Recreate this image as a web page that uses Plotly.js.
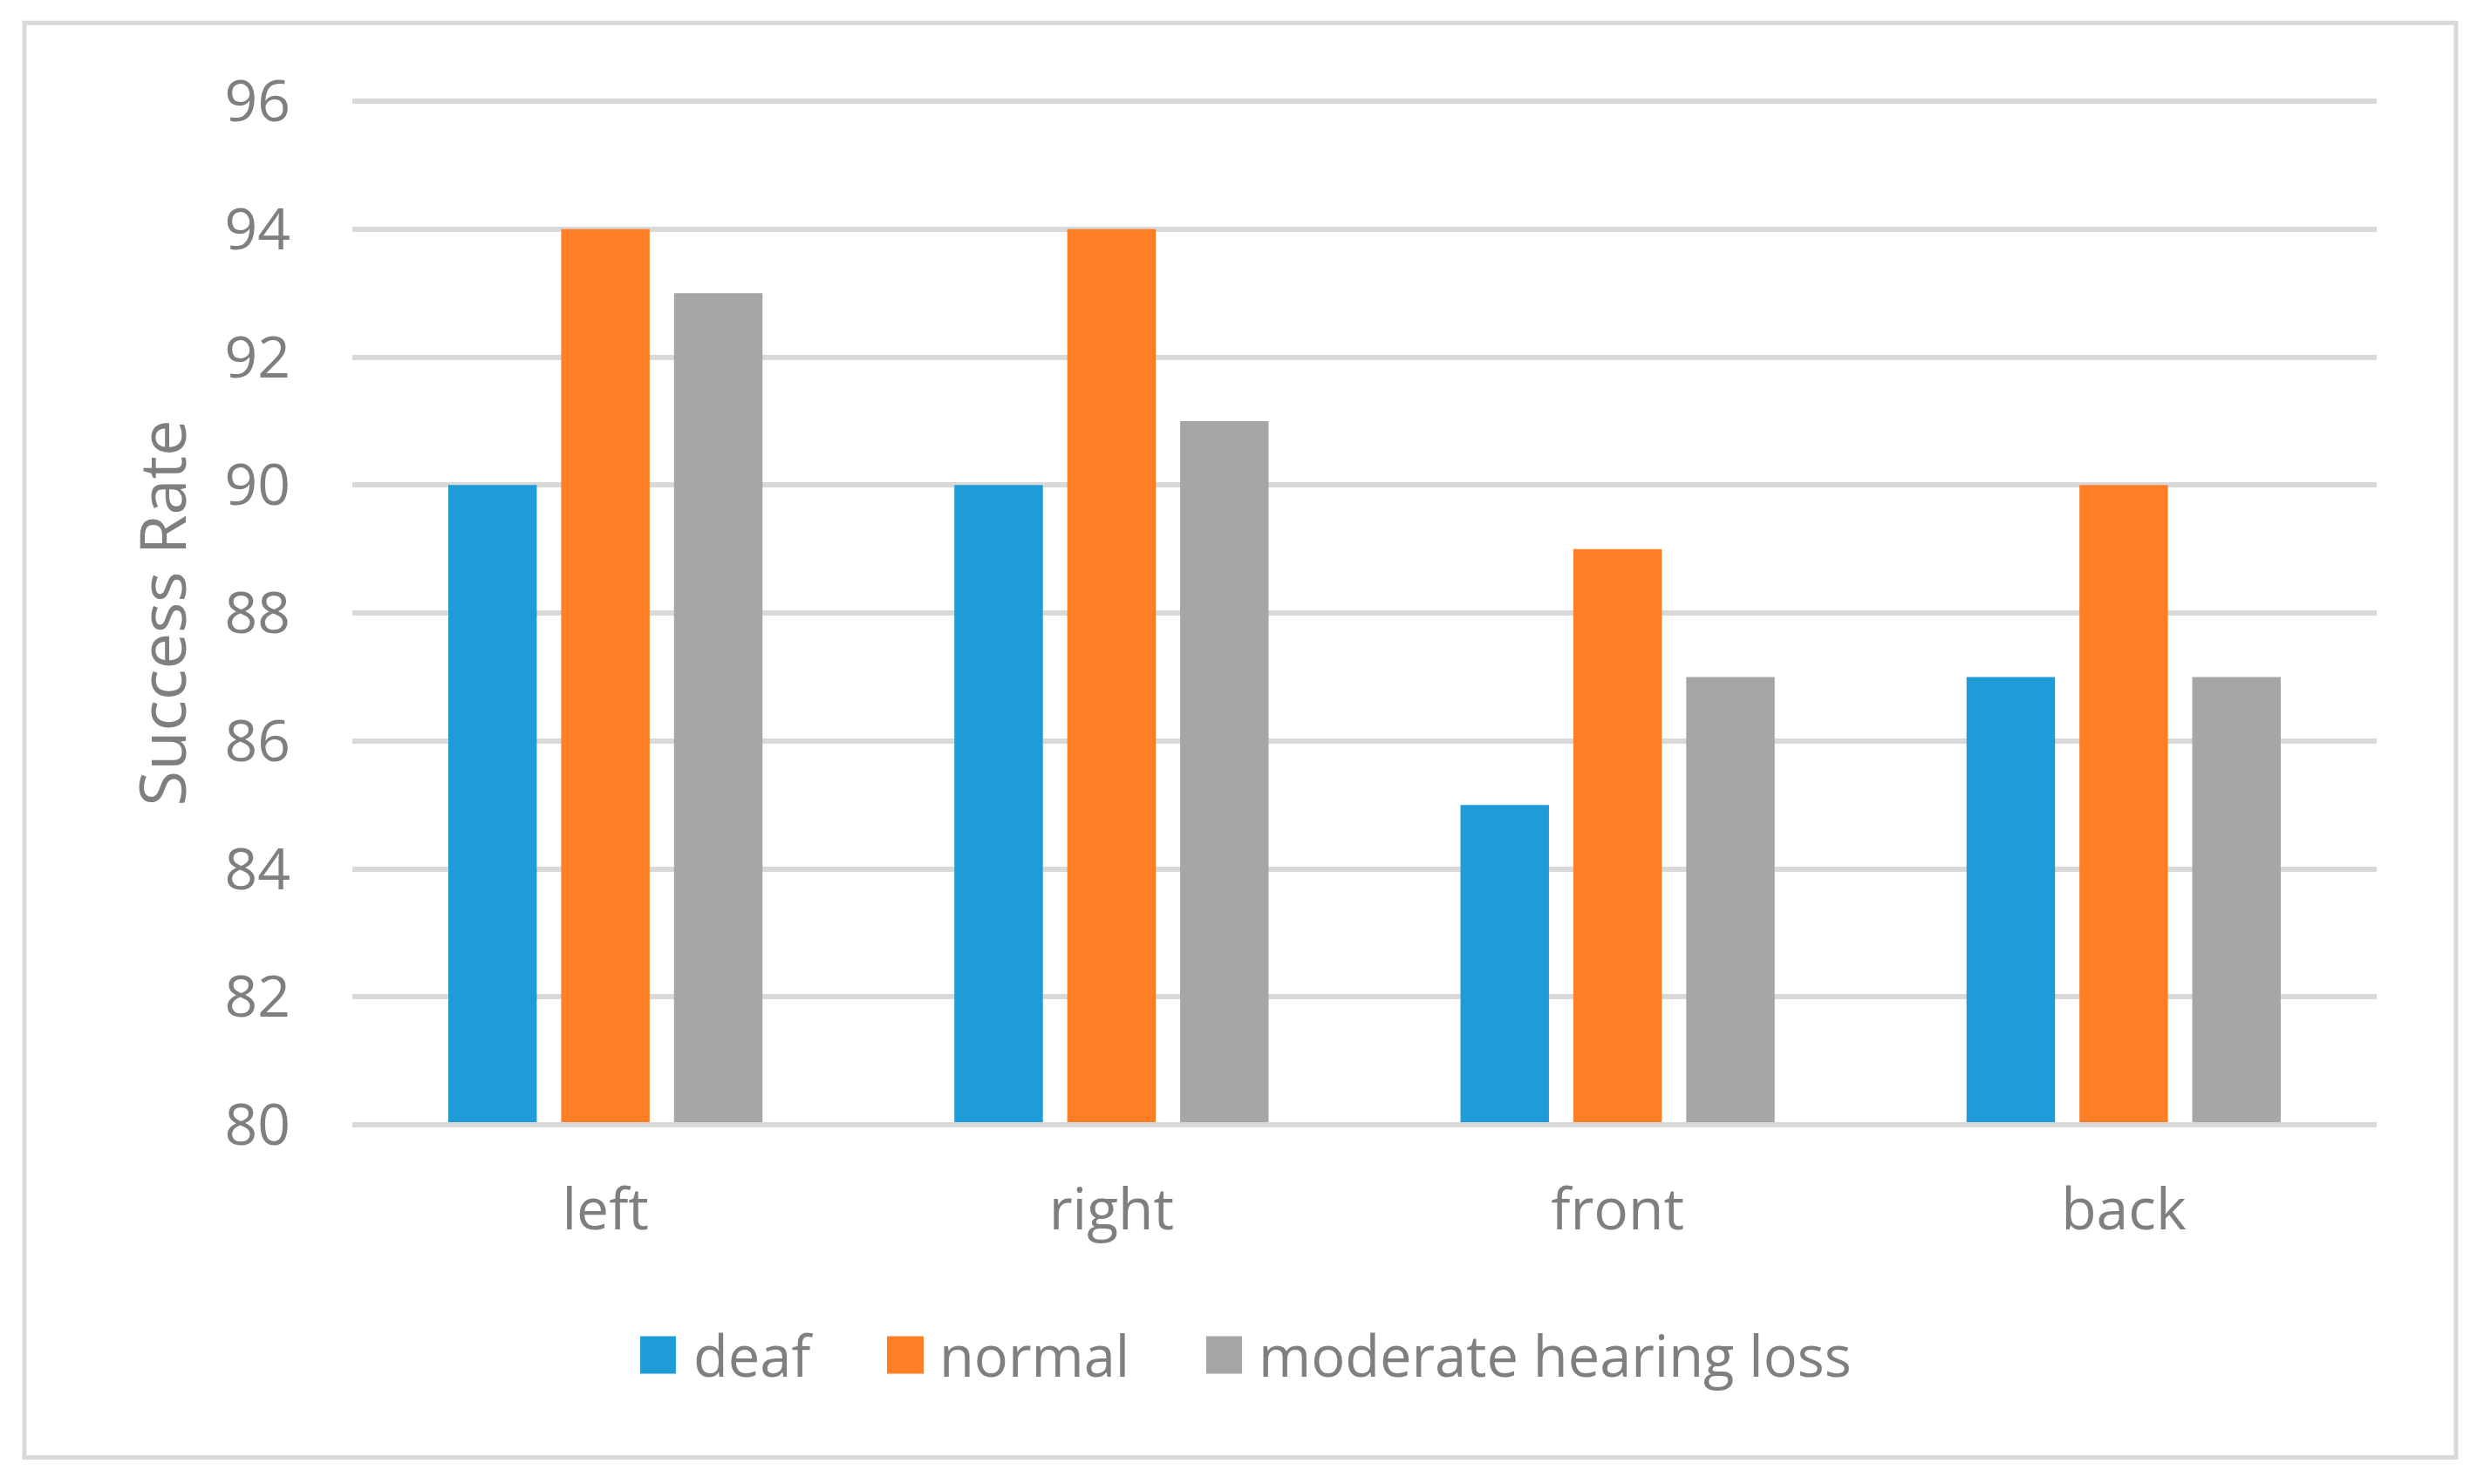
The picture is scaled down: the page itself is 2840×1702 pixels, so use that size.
<!DOCTYPE html>
<html>
<head>
<meta charset="utf-8">
<script src="https://cdn.plot.ly/plotly-3.0.1.min.js"></script>
<style>
  html, body { margin: 0; padding: 0; background: #ffffff; }
  #chart { width: 2840px; height: 1702px; }
</style>
</head>
<body>
<div id="chart"></div>
<script>
// ---- data ----
const categories = ['left', 'right', 'front', 'back'];
const seriesNames = ['deaf', 'normal', 'moderate hearing loss'];
const deafValues = [90, 90, 85, 87];
const normalValues = [94, 94, 89, 90];
const moderateValues = [93, 91, 87, 87];
const yTickValues = [80, 82, 84, 86, 88, 90, 92, 94, 96];
const yAxisTitle = 'Success Rate';

// ---- styles ----
const colors = ['#1E9CD8', '#FF7F27', '#A6A6A6'];
const textColor = '#7F7F7F';
const gridColor = '#D9D9D9';
const fontFamily = '"Open Sans", "Noto Sans", sans-serif';

const allValues = [deafValues, normalValues, moderateValues];
const traces = allValues.map((vals, i) => ({
  type: 'bar',
  name: seriesNames[i],
  x: categories,
  y: vals,
  marker: { color: colors[i], line: { width: 0 } },
  hoverinfo: 'x+y+name'
}));

const yMin = yTickValues[0];
const yMax = yTickValues[yTickValues.length - 1];

// custom legend (large square swatches)
const legendSwatchX = [[0.1422, 0.1598], [0.2641, 0.2822], [0.4218, 0.4395]];
const legendTextX = [0.1676, 0.2890, 0.4468];
const shapes = [
  { type: 'rect', xref: 'paper', yref: 'paper', x0: -0.1620, x1: 1.0392, y0: -0.3250, y1: 1.0764,
    line: { color: gridColor, width: 5 }, fillcolor: 'rgba(0,0,0,0)', layer: 'below' },
  // gridlines at the top and bottom ends of the axis range (Plotly omits these)
  { type: 'line', xref: 'paper', yref: 'paper', x0: 0, x1: 1, y0: 1, y1: 1,
    line: { color: gridColor, width: 6 }, layer: 'below' },
  { type: 'line', xref: 'paper', yref: 'paper', x0: 0, x1: 1, y0: 0, y1: 0,
    line: { color: gridColor, width: 6 }, layer: 'above' }
];
const annotations = [];
seriesNames.forEach((name, i) => {
  shapes.push({ type: 'rect', xref: 'paper', yref: 'paper',
    x0: legendSwatchX[i][0], x1: legendSwatchX[i][1], y0: -0.2432, y1: -0.2066,
    fillcolor: colors[i], line: { width: 0 } });
  annotations.push({ xref: 'paper', yref: 'paper', x: legendTextX[i], y: -0.2250,
    xanchor: 'left', yanchor: 'middle', showarrow: false, text: name,
    font: { family: fontFamily, size: 65, color: textColor } });
});

const layout = {
  width: 2840,
  height: 1702,
  paper_bgcolor: '#ffffff',
  plot_bgcolor: '#ffffff',
  margin: { l: 404, r: 115, t: 116, b: 412, pad: 0 },
  showlegend: false,
  barmode: 'group',
  bargap: 0.331,
  bargroupgap: 0.216,
  font: { family: fontFamily, color: textColor },
  xaxis: {
    type: 'category',
    tickfont: { family: fontFamily, size: 66, color: textColor },
    showgrid: false,
    showline: false,
    zeroline: false,
    ticks: '',
    ticklabelstandoff: 53,
    automargin: false
  },
  yaxis: {
    range: [yMin, yMax],
    tickvals: yTickValues,
    ticktext: yTickValues.map(String),
    tickfont: { family: fontFamily, size: 66, color: textColor },
    showgrid: true,
    gridcolor: gridColor,
    gridwidth: 6,
    zeroline: false,
    showline: false,
    ticks: '',
    ticklabelstandoff: 70,
    automargin: false,
    title: { text: yAxisTitle, font: { family: fontFamily, size: 74, color: textColor }, standoff: 19 }
  },
  shapes: shapes,
  annotations: annotations
};

Plotly.newPlot('chart', traces, layout, { displayModeBar: false, staticPlot: true });
</script>
</body>
</html>
